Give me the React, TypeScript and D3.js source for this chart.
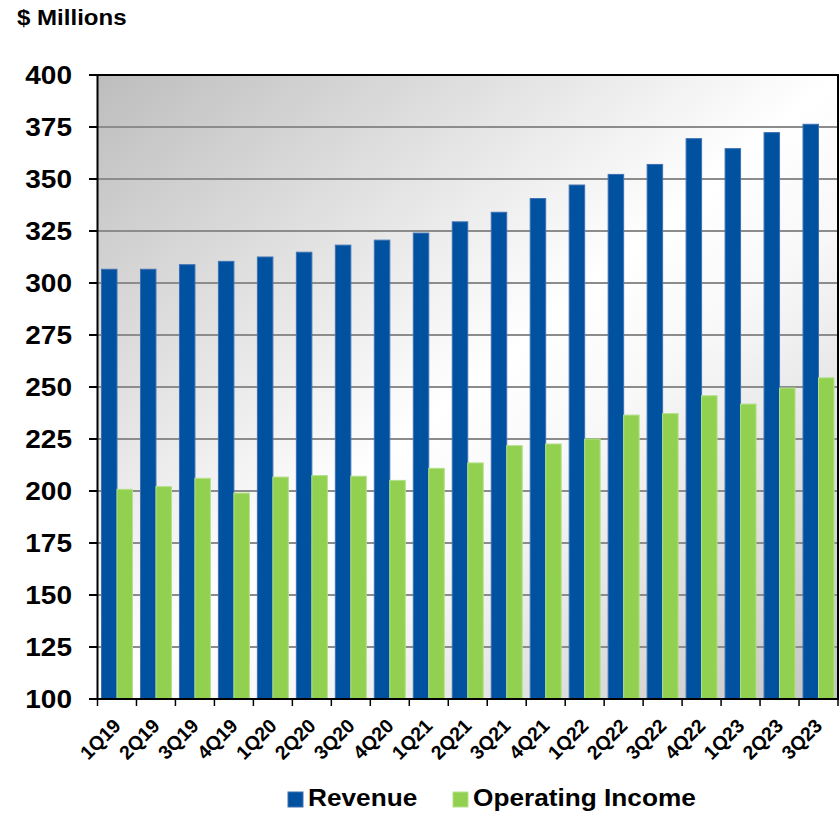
import React from 'react';
import * as d3 from 'd3';

const quarters = [
  '1Q19', '2Q19', '3Q19', '4Q19', '1Q20', '2Q20', '3Q20', '4Q20', '1Q21', '2Q21',
  '3Q21', '4Q21', '1Q22', '2Q22', '3Q22', '4Q22', '1Q23', '2Q23', '3Q23',
];
const revenue = [
  306.6, 306.6, 308.8, 310.4, 312.5, 314.8, 318.2, 320.6, 324.0, 329.4,
  334.0, 340.6, 347.1, 352.2, 357.0, 369.4, 364.6, 372.3, 376.3,
];
const operatingIncome = [
  200.8, 202.1, 206.1, 199.0, 206.7, 207.4, 207.1, 205.1, 210.9, 213.5,
  221.8, 222.6, 225.0, 236.5, 237.2, 245.8, 241.8, 249.5, 254.4,
];
const yTicks = [100, 125, 150, 175, 200, 225, 250, 275, 300, 325, 350, 375, 400];
const seriesNames = ['Revenue', 'Operating Income'];
const seriesColors = ['#0052a0', '#92d050'];
const seriesStrokes = ['#3d70b2', '#b4e08a'];

const W = 839;
const H = 813;
const left = 97.5;
const right = 838;
const top = 75;
const bottom = 699;
const SX = 1.12; // text in the picture is a little wider than Arial

export default function App() {
  const x0 = d3.scaleBand<string>().domain(quarters).range([left, right]).padding(0);
  const x1 = d3.scaleBand<string>().domain(seriesNames).range([4, x0.bandwidth() - 4]).padding(0);
  const y = d3.scaleLinear().domain([100, 400]).range([bottom, top]);
  const series = [revenue, operatingIncome];
  const font = 'Arial, "Liberation Sans", Helvetica, sans-serif';

  return (
    <div style={{ position: 'absolute', left: 0, top: 0 }}>
      <svg width={W} height={H} style={{ display: 'block', fontFamily: font }}>
        <defs>
          <linearGradient id="bg" x1="0" y1="0" x2="1" y2="1">
            <stop offset="0" stopColor="#bdbdbd" />
            <stop offset="0.5" stopColor="#ffffff" />
            <stop offset="0.62" stopColor="#f8f8f8" />
            <stop offset="1" stopColor="#c4c4c4" />
          </linearGradient>
        </defs>
        <rect width={W} height={H} fill="#fff" />

        <text
          transform={`translate(17,25) scale(${SX},1)`}
          fontSize={21.5}
          fontWeight="bold"
          fill="#000"
        >
          $ Millions
        </text>

        <rect x={left} y={top} width={right - left} height={bottom - top} fill="url(#bg)" />

        {/* gridlines */}
        {yTicks.filter(t => t > 100 && t < 400).map(t => (
          <line key={'g' + t} x1={left} x2={right} y1={y(t)} y2={y(t)} stroke="#8c8c8c" strokeWidth={2} />
        ))}

        {/* bars */}
        {quarters.map((q, i) => (
          <g key={q} transform={`translate(${x0(q)},0)`}>
            {series.map((s, k) => (
              <rect
                key={k}
                x={x1(seriesNames[k])}
                y={y(s[i])}
                width={x1.bandwidth()}
                height={bottom - y(s[i])}
                fill={seriesColors[k]}
                stroke={seriesStrokes[k]}
                strokeWidth={1}
              />
            ))}
          </g>
        ))}

        {/* frame */}
        <rect x={left} y={top} width={right - left} height={bottom - top} fill="none" stroke="#000" strokeWidth={2} />

        {/* y axis ticks and labels */}
        {yTicks.map(t => (
          <g key={'y' + t}>
            <line x1={89} x2={left} y1={y(t)} y2={y(t)} stroke="#000" strokeWidth={2} />
            <text
              transform={`translate(72,${y(t) + 9}) scale(${SX},1)`}
              textAnchor="end"
              fontSize={25}
              fontWeight="bold"
              fill="#000"
            >
              {t}
            </text>
          </g>
        ))}

        {/* x axis ticks and labels */}
        {quarters.map(q => (
          <line key={'xt' + q} x1={x0(q)!} x2={x0(q)!} y1={bottom} y2={bottom + 7} stroke="#000" strokeWidth={1.5} />
        ))}
        <line x1={right} x2={right} y1={bottom} y2={bottom + 7} stroke="#000" strokeWidth={1.5} />
        {quarters.map(q => (
          <g key={'xl' + q} transform={`translate(${x0(q)! + x0.bandwidth() / 2 + 5},727) rotate(-45)`}>
            <text textAnchor="end" fontSize={19.5} fontWeight="bold" fill="#000">
              {q}
            </text>
          </g>
        ))}

        {/* legend */}
        {seriesNames.map((name, k) => {
          const lx = k === 0 ? 288 : 453;
          return (
            <g key={name}>
              <rect x={lx} y={792} width={15} height={15} fill={seriesColors[k]} stroke={seriesStrokes[k]} strokeWidth={1} />
              <text
                transform={`translate(${lx + 20},806) scale(${SX + 0.02},1)`}
                fontSize={23}
                fontWeight="bold"
                fill="#000"
              >
                {name}
              </text>
            </g>
          );
        })}
      </svg>
    </div>
  );
}
